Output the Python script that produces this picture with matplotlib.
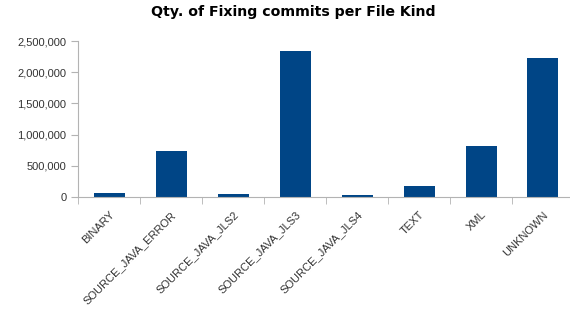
import numpy as np
import matplotlib.pyplot as plt
from matplotlib.ticker import FuncFormatter

kinds = ['BINARY', 'SOURCE_JAVA_ERROR', 'SOURCE_JAVA_JLS2', 'SOURCE_JAVA_JLS3',
         'SOURCE_JAVA_JLS4', 'TEXT', 'XML', 'UNKNOWN']
commits = [62000, 745000, 52000, 2335000, 30000, 180000, 815000, 2225000]
yticks = [0, 500000, 1000000, 1500000, 2000000, 2500000]

plt.rcParams['font.family'] = ['Liberation Sans', 'DejaVu Sans']

fig = plt.figure(figsize=(5.7, 3.23), dpi=100)
ax = fig.add_axes([0.137, 0.39, 0.870, 0.483])

x = np.arange(len(kinds))
ax.bar(x, commits, width=0.5, color='#004586')

ax.set_xlim(-0.5, len(kinds) - 0.5)
ax.set_ylim(0, 2500000)
ax.set_yticks(yticks)
ax.yaxis.set_major_formatter(FuncFormatter(lambda v, p: f'{int(v):,}'))

ax.set_xticks(x)
ax.set_xticklabels(kinds, rotation=45, ha='right', rotation_mode='anchor')
ax.set_xticks(np.arange(len(kinds) + 1) - 0.5, minor=True)
ax.tick_params(axis='x', which='major', length=0, pad=9, labelsize=8, labelcolor='#333333')
ax.tick_params(axis='x', which='minor', length=5, color='#b3b3b3')
ax.tick_params(axis='y', length=5, color='#b3b3b3', labelsize=8, labelcolor='#333333')

for s in ['top', 'right']:
    ax.spines[s].set_visible(False)
for s in ['left', 'bottom']:
    ax.spines[s].set_color('#b3b3b3')

fig.text(0.515, 0.962, 'Qty. of Fixing commits per File Kind', ha='center', va='center',
         fontsize=10.2, fontweight='bold', family='DejaVu Sans')

fig.savefig('out.png', dpi=100)
